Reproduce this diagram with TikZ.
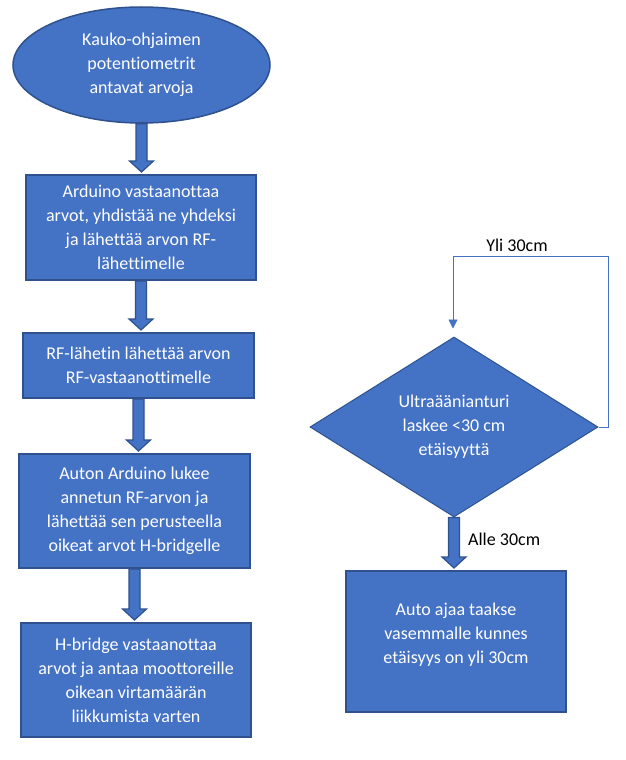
\documentclass[tikz,border=0pt]{standalone}
\usepackage{fontspec}
\setmainfont{Carlito}[Ligatures={NoCommon}]
\usepackage{tikz}
\usetikzlibrary{arrows.meta,calc,positioning,shapes.geometric}
\definecolor{sininen}{HTML}{4472C4}
\definecolor{tumma}{HTML}{2F528F}
\tikzset{
    boks/.style={
           rectangle,
           draw=tumma, line width=2pt,
           fill=sininen,
           text=white,
           align=center,
           inner sep=0pt},
    soikio/.style={
           ellipse,
           draw=tumma, line width=1.5pt,
           fill=sininen,
           text=white,
           align=center,
           inner sep=0pt},
    vinoneliö/.style={
           diamond,
           aspect=1.6,
           draw=tumma, line width=1pt,
           fill=sininen,
           text=white,
           align=center,
           inner sep=0pt},
    blokki/.style={
           draw=tumma, line width=1.2pt,
           fill=sininen},
    pil/.style={
           -{Triangle[length=9pt,width=9pt]},
           draw=sininen, line width=0.8pt},
    selite/.style={
           text=black}
}
\newcommand{\paksunuoli}[2]{%
  \draw[blokki] ($(#1.south)+(-5.5,0)$)
    -- ($(#1.south |- #2.north)+(-5.5,-13)$) -- ++(-6.5,0)
    -- ($(#1.south |- #2.north)+(0,-2)$)
    -- ($(#1.south |- #2.north)+(12,-13)$) -- ++(-6.5,0)
    -- ($(#1.south)+(5.5,0)$) -- cycle;}

\begin{document}
\begin{tikzpicture}[x=1pt,y=-1pt]
          \useasboundingbox (0,0) rectangle (626,760);
          \fontsize{18pt}{24pt}\selectfont
          \node[soikio, minimum width=257pt, minimum height=116pt] (kauko) at (141.5,65) {Kauko-ohjaimen\\potentiometrit\\antavat arvoja};
          \node[boks, minimum width=230pt, minimum height=105pt] (arduino) at (141,227.5) {Arduino vastaanottaa\\arvot, yhdistää ne yhdeksi\\ja lähettää arvon RF-\\lähettimelle};
          \node[boks, minimum width=231pt, minimum height=65pt] (rf) at (138.5,365.5) {RF-lähetin lähettää arvon\\RF-vastaanottimelle};
          \node[boks, minimum width=231pt, minimum height=114pt] (auton) at (134.5,511) {Auton Arduino lukee\\annetun RF-arvon ja\\lähettää sen perusteella\\oikeat arvot H-bridgelle};
          \node[boks, minimum width=230pt, minimum height=114pt] (hbridge) at (136,680) {H-bridge vastaanottaa\\arvot ja antaa moottoreille\\oikean virtamäärän\\liikkumista varten};
          \node[vinoneliö, minimum width=288pt, minimum height=180pt] (ultra) at (454,427) {Ultraäänianturi\\laskee <30 cm\\etäisyyttä};
          \node[boks, minimum width=220pt, minimum height=141pt, text depth=17pt] (auto) at (456,641.5) {Auto ajaa taakse\\vasemmalle kunnes\\etäisyys on yli 30cm};
          \coordinate (kulma) at (453,256);
          \paksunuoli{kauko}{arduino}
          \paksunuoli{arduino}{rf}
          \paksunuoli{rf}{auton}
          \paksunuoli{auton}{hbridge}
          \paksunuoli{ultra}{auto}
          \draw[pil] (ultra.east) -- ++(10,0) |- (kulma) -- ($(ultra.north)+(-1,-8)$);
          \node[selite] (yli) at (517,245) {Yli 30cm};
          \node[selite, anchor=west] (alle) at (462,539) {Alle 30cm};
\end{tikzpicture}
\end{document}
